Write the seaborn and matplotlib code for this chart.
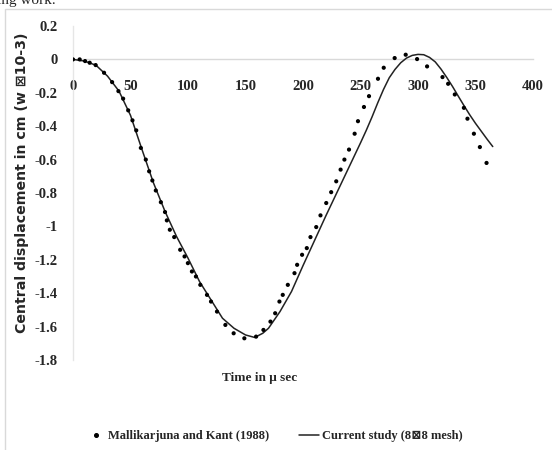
import matplotlib
matplotlib.use("Agg")
import matplotlib.pyplot as plt
from matplotlib.lines import Line2D
from matplotlib.patches import Rectangle
import seaborn as sns
import pandas as pd

# Reference data: Mallikarjuna and Kant (1988)
ref_time = [0, 5.8, 10.5, 14.5, 19.7, 27, 34, 39.5, 43.6, 48, 51.7, 55, 59,
            63.3, 66.2, 69, 72, 76.4, 80, 81.6, 84.2, 88, 93.2, 97, 99.9,
            103.4, 106.9, 110.7, 116.5, 120, 125.2, 132.5, 139.7, 149, 159.2,
            165.6, 171.7, 175.8, 179.5, 182.4, 186.8, 192.6, 194.9, 199.2,
            203.3, 206.5, 211.5, 215.2, 220.2, 224.5, 228.9, 232.7, 236, 240,
            244.9, 247.8, 253, 257.4, 265.2, 270.2, 279.7, 289.3, 299.2,
            307.9, 321.3, 326.2, 332, 339.9, 343, 348.6, 353.8, 359.6]
ref_disp = [0, 0, -0.01, -0.02, -0.034, -0.08, -0.136, -0.19, -0.235, -0.305,
            -0.365, -0.425, -0.53, -0.60, -0.67, -0.725, -0.785, -0.855,
            -0.914, -0.964, -1.02, -1.064, -1.14, -1.18, -1.22, -1.27, -1.30,
            -1.35, -1.41, -1.45, -1.51, -1.59, -1.64, -1.67, -1.66, -1.62,
            -1.57, -1.52, -1.45, -1.41, -1.35, -1.28, -1.23, -1.17, -1.13,
            -1.064, -1.004, -0.934, -0.86, -0.795, -0.73, -0.66, -0.60, -0.54,
            -0.445, -0.37, -0.285, -0.22, -0.116, -0.05, 0.008, 0.028, 0.002,
            -0.042, -0.106, -0.146, -0.21, -0.29, -0.355, -0.445, -0.525,
            -0.62]

# Current study (8x8 mesh)
cur_time = [0, 10, 20, 30, 40, 50, 60, 70, 80, 90, 100, 110, 120, 130, 140,
            150, 158, 165, 170, 180, 190, 200, 210, 220, 230, 240, 250, 255,
            260, 265, 270, 275, 280, 285, 290, 295, 300, 305, 310, 315, 320,
            325, 330, 335, 340, 345, 350, 355, 360, 365]
cur_disp = [0, -0.01, -0.035, -0.10, -0.19, -0.335, -0.54, -0.74, -0.91,
            -1.06, -1.19, -1.33, -1.44, -1.55, -1.61, -1.65, -1.665, -1.64,
            -1.61, -1.51, -1.39, -1.235, -1.085, -0.935, -0.79, -0.645, -0.50,
            -0.425, -0.345, -0.26, -0.18, -0.11, -0.06, -0.02, 0.008, 0.024,
            0.030, 0.028, 0.012, -0.015, -0.058, -0.108, -0.162, -0.22,
            -0.277, -0.332, -0.383, -0.43, -0.477, -0.522]

x_ticks = [0, 50, 100, 150, 200, 250, 300, 350, 400]
y_ticks = [0.2, 0, -0.2, -0.4, -0.6, -0.8, -1, -1.2, -1.4, -1.6, -1.8]
y_tick_labels = ["0.2", "0", "-0.2", "-0.4", "-0.6", "-0.8", "-1", "-1.2",
                 "-1.4", "-1.6", "-1.8"]

ref_label = "Mallikarjuna and Kant (1988)"
cur_label = "Current study (8\u22a08 mesh)"
x_title = "Time in \u03bc sec"
y_title = "Central displacement in cm (w \u22a010-3)"

sns.set_style("white")
serif = ["Liberation Serif", "DejaVu Serif"]

fig = plt.figure(figsize=(5.52, 4.5), dpi=100)
ax = fig.add_axes([73 / 552, 1 - 360 / 450, 460 / 552, 334 / 450])

df_ref = pd.DataFrame({"t": ref_time, "w": ref_disp})
df_cur = pd.DataFrame({"t": cur_time, "w": cur_disp})

sns.lineplot(data=df_cur, x="t", y="w", ax=ax, color="#222222", lw=1.1,
             sort=True)
sns.scatterplot(data=df_ref, x="t", y="w", ax=ax, color="black", s=9,
                edgecolor="none", zorder=3)

ax.set_xlim(0, 400)
ax.set_ylim(-1.8, 0.2)
ax.set_xticks(x_ticks)
ax.set_yticks(y_ticks)
ax.set_yticklabels(y_tick_labels)
ax.set_xlabel("")
ax.set_ylabel("")

for side in ["top", "right"]:
    ax.spines[side].set_visible(False)
ax.spines["bottom"].set_position(("data", 0))
ax.spines["bottom"].set_color("#d9d9d9")
ax.spines["bottom"].set_linewidth(1.0)
ax.spines["bottom"].set_zorder(0)
ax.spines["left"].set_color("#e6e6e6")
ax.spines["left"].set_linewidth(1.0)
ax.tick_params(axis="both", length=0)
ax.tick_params(axis="x", pad=15)
ax.tick_params(axis="y", pad=11)
for lab in ax.get_xticklabels() + ax.get_yticklabels():
    lab.set_fontfamily(serif)
    lab.set_fontweight("bold")
    lab.set_fontsize(10.5)

fig.text(260 / 552, 1 - 378 / 450, x_title, ha="center", va="center",
         fontsize=9.5, fontweight="bold", family=serif)
fig.text(22 / 552, 1 - 183 / 450, y_title, ha="center", va="center",
         rotation=90, fontsize=10.2, fontweight="bold",
         family=["DejaVu Sans"])

# chart border
fig.patches.append(Rectangle((5 / 552, -0.05), 1.0, 1 - 9 / 450 + 0.05,
                             transform=fig.transFigure, fill=False,
                             edgecolor="#d9d9d9", lw=1.0))
# clipped caption fragment from page above
fig.text(-3 / 552, 1 - 4 / 450, "ing work.", ha="left", va="baseline",
         fontsize=11, family=serif)

handles = [Line2D([], [], marker="o", ls="none", color="black",
                  markersize=2.6),
           Line2D([], [], color="#222222", lw=1.1)]
leg = fig.legend(handles, [ref_label, cur_label], loc="center",
                 bbox_to_anchor=(274 / 552, 1 - 436 / 450), ncol=2,
                 frameon=False, handlelength=1.6, handletextpad=0.2,
                 columnspacing=2.4,
                 prop={"family": serif, "weight": "bold", "size": 9})

fig.savefig("out.png", dpi=100)
